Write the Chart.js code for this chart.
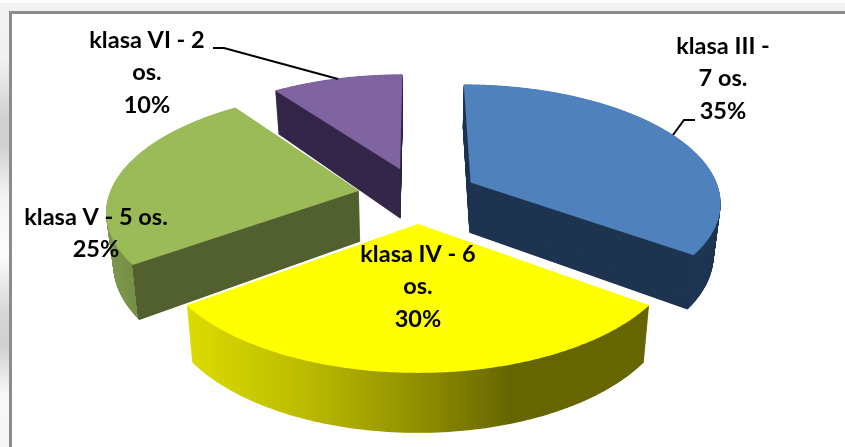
<!DOCTYPE html>
<html>
<head>
<meta charset="utf-8">
<script src="https://cdn.jsdelivr.net/npm/chart.js@4"></script>
<style>
  html, body { margin: 0; padding: 0; }
  body {
    width: 845px; height: 447px; overflow: hidden; position: relative;
    background: linear-gradient(180deg, #fbfbfb 0, #fbfbfb 3px, #f2f2f2 3px, #f1f1f1 60px, #d0d0d0 120px, #d0d0d0 145px, #f3f3f3 195px, #fdfdfd 255px, #d8d8d8 310px, #d0d0d0 345px, #f8f8f8 395px, #f6f6f6 447px);
  }
  .frame {
    position: absolute; left: 9px; top: 11px; right: -4px; bottom: -4px;
    background: #fff; border: 3px solid #8c8c8c; box-sizing: content-box;
  }
  .wrap { position: absolute; left: 0; top: 0; width: 845px; height: 447px; }
</style>
</head>
<body>
<div class="frame"></div>
<div class="wrap"><canvas id="pie" width="845" height="447"></canvas></div>
<script>
const CATEGORIES = ['klasa III', 'klasa IV', 'klasa V', 'klasa VI']
const PERSONS = [7, 6, 5, 2]
const PERCENT = [35, 30, 25, 10]
const TOP_COLORS = ['#4f81bd', '#ffff00', '#9bbb59', '#8064a2']

// Wrapped the way the original data labels wrap
const LABEL_LINES = [
  [`${CATEGORIES[0]} -`, `${PERSONS[0]} os.`, `${PERCENT[0]}%`],
  [`${CATEGORIES[1]} - ${PERSONS[1]}`, 'os.', `${PERCENT[1]}%`],
  [`${CATEGORIES[2]} - ${PERSONS[2]} os.`, `${PERCENT[2]}%`],
  [`${CATEGORIES[3]} - ${PERSONS[3]}`, 'os.', `${PERCENT[3]}%`]
]
const LABEL_POS = [[723, 46], [418, 254], [96, 217], [147, 40]]
const LABEL_STEP = 32.5

// 3D view of the pie plane, in px
const CX = 418, CY = 195
const RADIUS = 250, EXPLODE = 60
const TILT = 0.466, CAMERA = 1650
const DEPTH = 51

// Projects a point of the exploded pie plane; z goes down the side of the slice.
function project(X, Y, z) {
  const s = CAMERA / (CAMERA - Y)
  const shrink = 1 - z * 0.00045
  return [CX + X * s * shrink, CY + Y * s * TILT + z * (1 + Y * 0.029 / DEPTH)]
}

// Stands in for the canvas context in arc.draw(), so the element's own
// path goes through the 3D view instead of being a flat circle.
function viewContext(ctx, arc, z, fill) {
  const f = RADIUS / arc.outerRadius
  const mid = (arc.startAngle + arc.endAngle) / 2
  const ox = EXPLODE * Math.cos(mid), oy = EXPLODE * Math.sin(mid)
  const map = (x, y) => project((x - arc.x) * f + ox, (y - arc.y) * f + oy, z)
  const put = (x, y) => { const p = map(x, y); ctx.lineTo(p[0], p[1]) }
  return {
    save() {}, restore() {}, translate() {}, clip() {}, stroke() {},
    setLineDash() {},
    beginPath() { ctx.beginPath() },
    closePath() { ctx.closePath() },
    fill() { ctx.fillStyle = fill; ctx.fill() },
    moveTo(x, y) { const p = map(x, y); ctx.moveTo(p[0], p[1]) },
    lineTo: put,
    arc(x, y, r, a0, a1, ccw) {
      const steps = Math.max(2, Math.ceil(Math.abs(a1 - a0) / 0.01))
      for (let i = 0; i <= steps; i++) {
        const a = a0 + (a1 - a0) * i / steps
        put(x + r * Math.cos(a), y + r * Math.sin(a))
      }
    }
  }
}

function sideFills(ctx) {
  // yellow rim gets darker to the right
  const yellow = ctx.createLinearGradient(187, 0, 650, 0)
  yellow.addColorStop(0, '#dcdc00')
  yellow.addColorStop(0.25, '#bcbc00')
  yellow.addColorStop(0.5, '#8f8f00')
  yellow.addColorStop(0.7, '#666600')
  yellow.addColorStop(1, '#666600')
  // green: lighter rim, hard edge where the cut face starts
  const green = ctx.createLinearGradient(76, 269, 188, 257)
  green.addColorStop(0, '#87a651')
  green.addColorStop(0.5, '#768f47')
  green.addColorStop(0.5, '#52602f')
  green.addColorStop(1, '#52602f')
  return ['#1f3552', yellow, green, '#35274a']
}

const pie3d = {
  id: 'pie3d',
  beforeDatasetsDraw(chart) {
    const ctx = chart.ctx
    const arcs = chart.getDatasetMeta(0).data
    const fills = sideFills(ctx)
    // back to front
    ;[3, 2, 0, 1].forEach(i => {
      for (let z = DEPTH; z > 0; z -= 0.5) arcs[i].draw(viewContext(ctx, arcs[i], z, fills[i]))
      arcs[i].draw(viewContext(ctx, arcs[i], 0, TOP_COLORS[i]))
    })
    return false
  },
  afterDraw(chart) {
    const ctx = chart.ctx
    ctx.save()
    ctx.strokeStyle = '#000'
    ctx.lineWidth = 2
    ctx.beginPath()
    ctx.moveTo(213, 48); ctx.lineTo(224, 48); ctx.lineTo(338, 79)
    ctx.moveTo(695, 120); ctx.lineTo(684, 120); ctx.lineTo(673, 135)
    ctx.stroke()
    ctx.fillStyle = '#000'
    ctx.font = 'bold 23.5px Lato'
    ctx.textAlign = 'center'
    ctx.textBaseline = 'middle'
    LABEL_LINES.forEach((lines, i) => {
      lines.forEach((t, j) => ctx.fillText(t, LABEL_POS[i][0], LABEL_POS[i][1] + j * LABEL_STEP))
    })
    ctx.restore()
  }
}

new Chart(document.getElementById('pie'), {
  type: 'pie',
  data: {
    labels: CATEGORIES,
    datasets: [{ data: PERCENT, backgroundColor: TOP_COLORS, borderWidth: 0 }]
  },
  options: {
    responsive: false,
    animation: false,
    layout: { padding: 0 },
    plugins: { legend: { display: false }, tooltip: { enabled: false } }
  },
  plugins: [pie3d]
})
</script>
</body>
</html>
